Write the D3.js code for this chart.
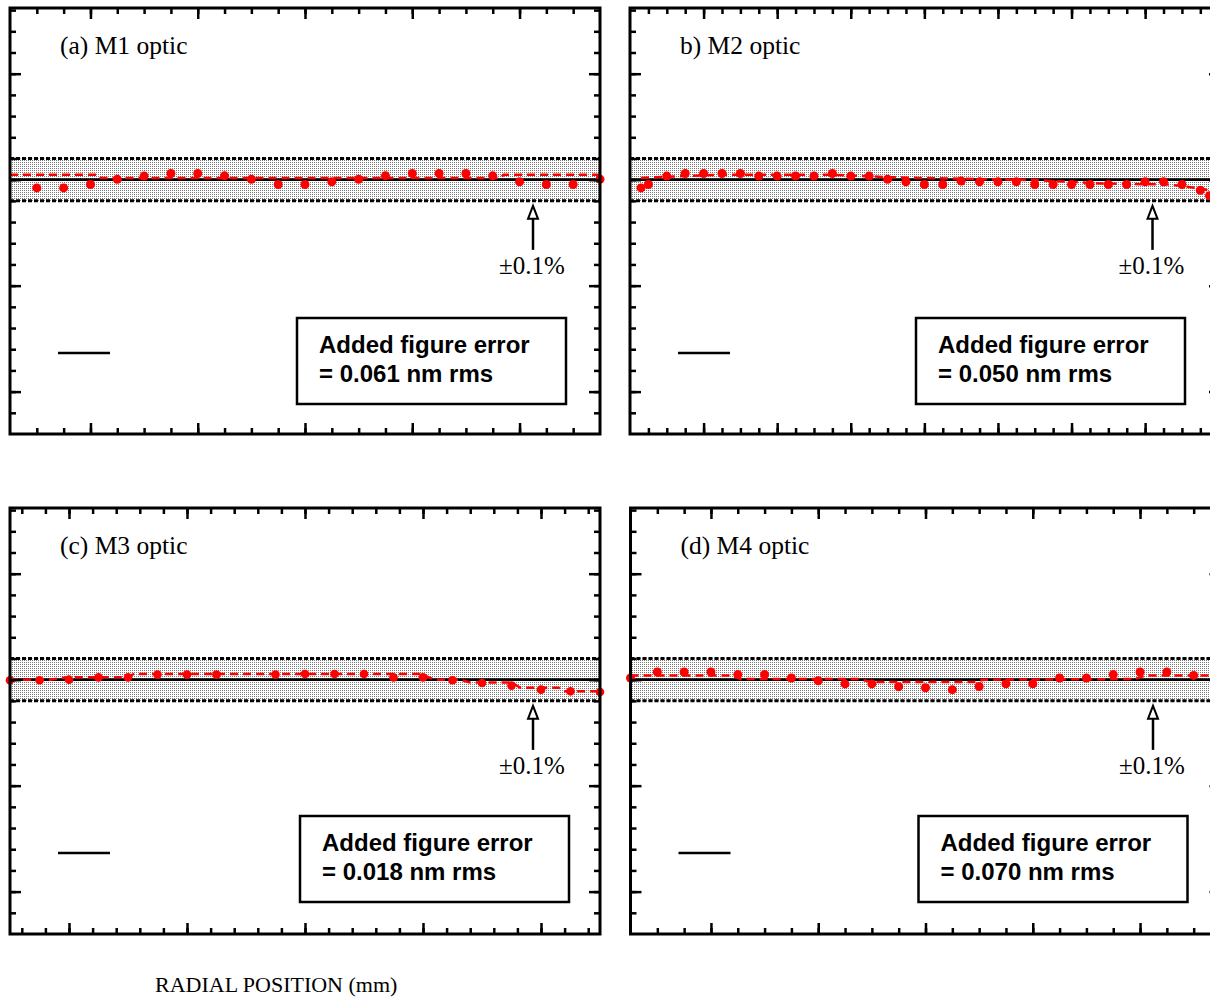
<!DOCTYPE html>
<html>
<head>
<meta charset="utf-8">
<script src="https://cdn.jsdelivr.net/npm/d3@7"></script>
<style>
  html, body { margin: 0; padding: 0; background: #fff; }
  svg { display: block; }
</style>
</head>
<body>
<svg id="chart" width="1210" height="997"></svg>
<script>
// ---------------- DATA (deviation in %, radial position in panel units) ----------------
const panelTitles = ["(a) M1 optic", "b) M2 optic", "(c) M3 optic", "(d) M4 optic"];
const errorLabels = ["= 0.061 nm rms", "= 0.050 nm rms", "= 0.018 nm rms", "= 0.070 nm rms"];
const boxTitle = "Added figure error";
const bandLabel = "\u00B10.1%";
const xAxisTitle = "RADIAL POSITION (mm)";
const bandHalfWidth = 0.1;

// (a) M1
const m1Pos = [1,2,3,4,5,6,7,8,9,10,11,12,13,14,15,16,17,18,19,20,21,22];
const m1Dev = [-0.039,-0.039,-0.023,0.002,0.017,0.029,0.029,0.018,0.002,-0.023,-0.023,-0.010,0.002,0.018,0.029,0.029,0.029,0.018,-0.010,-0.023,-0.023,0.002];
const m1FitPos = [0, 3.3, 3.4, 18.3, 18.4, 22];
const m1FitDev = [0.023, 0.023, 0.008, 0.008, 0.023, 0.023];

// (b) M2
const m2Pos = [0.6,1,2,3,4,5,6,7,8,9,10,11,12,13,14,15,16,17,18,19,20,21,22,23,24,25,26,27,28,29,30,31,31.5];
const m2Dev = [-0.039,-0.023,0.017,0.029,0.029,0.029,0.029,0.017,0.017,0.017,0.017,0.029,0.017,0.017,0.002,-0.010,-0.023,-0.023,-0.006,-0.010,-0.010,-0.010,-0.023,-0.023,-0.023,-0.023,-0.023,-0.023,-0.010,-0.010,-0.023,-0.050,-0.076];
const m2FitPos = [0.6, 2, 5, 11, 14, 15.7, 19.5, 22.1, 25.6, 29.3, 31.1, 32];
const m2FitDev = [0.008, 0.014, 0.023, 0.023, 0.012, 0.008, 0.002, -0.002, -0.018, -0.023, -0.042, -0.068];

// (c) M3
const m3Pos = [0,1,2,3,4,5,6,7,9,10,11,12,13,14,15,16,17,18,19,20];
const m3Dev = [-0.003,-0.003,0.0,0.011,0.011,0.024,0.024,0.024,0.024,0.027,0.027,0.027,0.011,0.011,-0.003,-0.016,-0.028,-0.047,-0.055,-0.058];
const m3FitPos = [0, 1.35, 1.9, 3.96, 4.2, 13.9, 14.4, 15.25, 15.6, 17, 17.3, 18.6, 18.8, 20];
const m3FitDev = [0, 0, 0.011, 0.011, 0.027, 0.027, 0, 0, -0.013, -0.013, -0.038, -0.038, -0.055, -0.055];

// (d) M4
const m4Pos = [0,1,2,3,4,5,6,7,8,9,10,11,12,13,14,15,16,17,18,19,20,21,22];
const m4Dev = [0.008,0.036,0.036,0.036,0.024,0.024,0.008,-0.005,-0.020,-0.020,-0.033,-0.038,-0.047,-0.032,-0.019,-0.019,0.008,0.008,0.024,0.036,0.036,0.020,0.020];
const m4FitPos = [0, 3.8, 4.1, 8.5, 9, 12.8, 13.2, 18.8, 19.2, 22];
const m4FitDev = [0.020, 0.020, 0.003, 0.003, -0.011, -0.011, 0, 0.003, 0.020, 0.020];

// axis tick values
const yMinorTicks = d3.range(-1.1, 0.81, 0.1).map(v => +v.toFixed(2));
const yMajorTicks = [-1.0, -0.5, 0, 0.5];
const xTicksA = { minor: d3.range(1, 22), major: [3, 7, 11, 15, 19] };
const xTicksB = { minor: d3.range(1, 33), major: [4, 8, 12, 16, 20, 24, 28, 32] };
const xTicksC = { minor: d3.range(0.4, 20, 0.8).map(v => +v.toFixed(2)), major: [2, 6, 10, 14, 18] };

// ---------------- LAYOUT ----------------
const yDomain = [-1.2, 0.81];
const panels = [
  { pos: m1Pos, dev: m1Dev, fitPos: m1FitPos, fitDev: m1FitDev, xDom: [0, 22], ticks: xTicksA,
    left: 10, top: 8, r: 4.5 },
  { pos: m2Pos, dev: m2Dev, fitPos: m2FitPos, fitDev: m2FitDev, xDom: [0, 32.07], ticks: xTicksB,
    left: 630, top: 8, r: 4.5 },
  { pos: m3Pos, dev: m3Dev, fitPos: m3FitPos, fitDev: m3FitDev, xDom: [0, 20], ticks: xTicksC,
    left: 10, top: 508, r: 4.3 },
  { pos: m4Pos, dev: m4Dev, fitPos: m4FitPos, fitDev: m4FitDev, xDom: [0, 22], ticks: xTicksA,
    left: 630.5, top: 508, r: 4.5 }
];
const W = 590, H = 426;

const svg = d3.select("#chart");
const defs = svg.append("defs");
const pat = defs.append("pattern").attr("id", "stipple").attr("patternUnits", "userSpaceOnUse")
  .attr("width", 2).attr("height", 2);
pat.append("rect").attr("width", 2).attr("height", 2).attr("fill", "#fff");
pat.append("rect").attr("width", 1).attr("height", 1).attr("fill", "#7a7a7a");

panels.forEach((p, i) => {
  const x = d3.scaleLinear().domain(p.xDom).range([p.left, p.left + W]);
  const y = d3.scaleLinear().domain(yDomain).range([p.top + H, p.top]);
  const g = svg.append("g");

  // band
  g.append("rect")
    .attr("x", x(p.xDom[0])).attr("width", x(p.xDom[1]) - x(p.xDom[0]))
    .attr("y", y(bandHalfWidth)).attr("height", y(-bandHalfWidth) - y(bandHalfWidth))
    .attr("fill", "url(#stipple)");
  [bandHalfWidth, -bandHalfWidth].forEach(v => {
    g.append("line")
      .attr("x1", x(p.xDom[0])).attr("x2", x(p.xDom[1]))
      .attr("y1", y(v)).attr("y2", y(v))
      .attr("stroke", "#000").attr("stroke-width", 3).attr("stroke-dasharray", "4,2");
  });
  // zero line
  g.append("line")
    .attr("x1", x(p.xDom[0])).attr("x2", x(p.xDom[1]))
    .attr("y1", y(0)).attr("y2", y(0))
    .attr("stroke", "#000").attr("stroke-width", 2.8);

  // fit (dashed red)
  const fit = p.fitPos.map((v, k) => [v, p.fitDev[k]]);
  g.append("path")
    .datum(fit)
    .attr("d", d3.line().x(d => x(d[0])).y(d => y(d[1])))
    .attr("fill", "none").attr("stroke", "#ff0000").attr("stroke-width", 2.5)
    .attr("stroke-dasharray", "8,5");

  // points
  g.selectAll("circle.pt")
    .data(p.pos.map((v, k) => [v, p.dev[k]]))
    .join("circle").attr("class", "pt")
    .attr("cx", d => x(d[0])).attr("cy", d => y(d[1])).attr("r", p.r)
    .attr("fill", "#ff0000");

  // frame
  g.append("rect")
    .attr("x", p.left).attr("y", p.top).attr("width", W).attr("height", H)
    .attr("fill", "none").attr("stroke", "#000").attr("stroke-width", 3);

  // ticks (inward on all four sides)
  const addAxis = (axisGen, tx, ty) => {
    const a = g.append("g").attr("transform", `translate(${tx},${ty})`).call(axisGen);
    a.select(".domain").remove();
    a.selectAll("text").remove();
    a.selectAll("line").attr("stroke", "#000").attr("stroke-width", 2.5);
  };
  const minorLen = 6, majorLen = 11;
  addAxis(d3.axisTop(x).tickValues(p.ticks.minor).tickSize(minorLen).tickFormat(""), 0, p.top + H);
  addAxis(d3.axisTop(x).tickValues(p.ticks.major).tickSize(majorLen).tickFormat(""), 0, p.top + H);
  addAxis(d3.axisBottom(x).tickValues(p.ticks.minor).tickSize(minorLen).tickFormat(""), 0, p.top);
  addAxis(d3.axisBottom(x).tickValues(p.ticks.major).tickSize(majorLen).tickFormat(""), 0, p.top);
  addAxis(d3.axisRight(y).tickValues(yMinorTicks).tickSize(minorLen).tickFormat(""), p.left, 0);
  addAxis(d3.axisRight(y).tickValues(yMajorTicks).tickSize(majorLen).tickFormat(""), p.left, 0);
  addAxis(d3.axisLeft(y).tickValues(yMinorTicks).tickSize(minorLen).tickFormat(""), p.left + W, 0);
  addAxis(d3.axisLeft(y).tickValues(yMajorTicks).tickSize(majorLen).tickFormat(""), p.left + W, 0);

  // panel title
  g.append("text")
    .attr("x", p.left + 50).attr("y", p.top + 46)
    .attr("font-family", "'Liberation Serif', 'Times New Roman', serif")
    .attr("font-size", 25.5).text(panelTitles[i]);

  // ±0.1% arrow + label
  const ax = (i % 2 === 0) ? p.left + 523 : p.left + 522.5;
  const tipY = y(-bandHalfWidth) + 5;
  const baseY = tipY + 44;
  g.append("line").attr("x1", ax).attr("x2", ax).attr("y1", baseY).attr("y2", tipY + 10)
    .attr("stroke", "#000").attr("stroke-width", 2.5);
  g.append("path")
    .attr("d", `M${ax - 5},${tipY + 13} L${ax},${tipY} L${ax + 5},${tipY + 13} Z`)
    .attr("fill", "#fff").attr("stroke", "#000").attr("stroke-width", 2).attr("stroke-linejoin", "miter");
  g.append("text")
    .attr("x", ax - 1).attr("y", baseY + 24).attr("text-anchor", "middle")
    .attr("font-family", "'Liberation Serif', 'Times New Roman', serif")
    .attr("font-size", 25).text(bandLabel);

  // legend short line
  g.append("line")
    .attr("x1", p.left + 48).attr("x2", p.left + 100)
    .attr("y1", p.top + 345).attr("y2", p.top + 345)
    .attr("stroke", "#000").attr("stroke-width", 2.5);

  // box
  const bx = [287, 286, 290, 288][i] + p.left;
  const by = p.top + (i < 2 ? 310 : 308);
  g.append("rect").attr("x", bx).attr("y", by).attr("width", 269).attr("height", 86)
    .attr("fill", "#fff").attr("stroke", "#000").attr("stroke-width", 2.5);
  const tx = bx + 22;
  const bt = g.append("text")
    .attr("font-family", "'Liberation Sans', Arial, sans-serif")
    .attr("font-weight", "bold").attr("font-size", 24);
  bt.append("tspan").attr("x", tx).attr("y", by + 35).text(boxTitle);
  bt.append("tspan").attr("x", tx).attr("y", by + 64).text(errorLabels[i]);
});

// x axis title
svg.append("text")
  .attr("x", 155).attr("y", 992)
  .attr("font-family", "'Liberation Serif', 'Times New Roman', serif")
  .attr("font-size", 22).text(xAxisTitle);
</script>
</body>
</html>
